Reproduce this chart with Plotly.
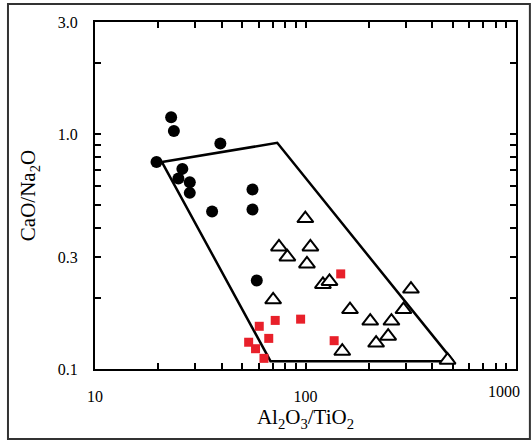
import plotly.graph_objects as go

# Data
circle_x = [23.0, 23.7, 39.4, 19.6, 26.0, 24.9, 28.2, 28.2, 36.0, 56.0, 56.0, 58.7]
circle_y = [1.18, 1.03, 0.912, 0.76, 0.711, 0.647, 0.624, 0.562, 0.468, 0.581, 0.477, 0.238]

tri_x = [99.8, 74.8, 105.5, 82.0, 101.6, 121, 130, 70.2, 317, 162.7, 292, 203, 256, 247, 216.5, 149.5, 473]
tri_y = [0.437, 0.331, 0.331, 0.300, 0.280, 0.229, 0.236, 0.197, 0.219, 0.179, 0.179, 0.160, 0.160, 0.138, 0.129, 0.119, 0.109]

sq_x = [147, 60.3, 71.8, 94.8, 53.7, 66.9, 57.9, 63.5, 136.8]
sq_y = [0.254, 0.152, 0.161, 0.163, 0.130, 0.135, 0.122, 0.111, 0.132]

field_x = [20.8, 73.4, 503.6, 68.2, 20.8]
field_y = [0.76, 0.918, 0.108, 0.108, 0.76]

x_ticks = [10, 100, 1000]
x_labels = ["10", "100", "1000"]
x_minor = [20, 30, 40, 50, 60, 70, 80, 90, 200, 300, 400, 500, 600, 700, 800, 900]
y_ticks = [0.1, 0.3, 1.0, 3.0]
y_labels = ["0.1", "0.3", "1.0", "3.0"]
y_minor = [0.2, 0.4, 0.5, 0.6, 0.7, 0.8, 0.9, 2.0]

FONT = "Liberation Serif"

fig = go.Figure()
fig.add_trace(go.Scatter(x=field_x, y=field_y, mode="lines",
                         line=dict(color="black", width=2.5), hoverinfo="skip"))
fig.add_trace(go.Scatter(x=circle_x, y=circle_y, mode="markers",
                         marker=dict(symbol="circle", size=12, color="black")))
fig.add_trace(go.Scatter(x=tri_x, y=tri_y, mode="markers",
                         marker=dict(symbol="triangle-up", size=14, color="white",
                                     line=dict(color="black", width=2))))
fig.add_trace(go.Scatter(x=sq_x, y=sq_y, mode="markers",
                         marker=dict(symbol="square", size=9, color="#e8202a")))

axis_common = dict(showgrid=False, zeroline=False, showline=True, linecolor="black",
                   linewidth=2, mirror="ticks", ticks="inside", ticklen=6,
                   tickwidth=2, tickcolor="black", ticklabeloverflow="allow",
                   automargin=False,
                   tickfont=dict(family=FONT, size=16, color="black"))

# all ticks (major + minor) on one array; the last major label is an annotation
xt_vals = x_ticks + x_minor
xt_text = x_labels[:-1] + [""] + [""] * len(x_minor)
yt_vals = y_ticks + y_minor
yt_text = y_labels + [""] * len(y_minor)

fig.update_xaxes(type="log", range=[1, 3], tickmode="array", tickvals=xt_vals,
                 ticktext=xt_text,
                 title=dict(text="Al<sub>2</sub>O<sub>3</sub>/TiO<sub>2</sub>",
                            font=dict(family=FONT, size=21, color="black"), standoff=4),
                 ticklabelstandoff=12, **axis_common)
fig.add_annotation(x=3, y=0, xref="x", yref="paper", text=x_labels[-1],
                   showarrow=False, xanchor="right", yanchor="top",
                   xshift=6, yshift=-12,
                   font=dict(family=FONT, size=16, color="black"))
fig.update_yaxes(type="log", range=[-1, 0.47712], tickmode="array", tickvals=yt_vals,
                 ticktext=yt_text,
                 title=dict(text="CaO/Na<sub>2</sub>O",
                            font=dict(family=FONT, size=21, color="black"), standoff=16),
                 ticklabelstandoff=12, **axis_common)

fig.add_shape(type="rect", xref="paper", yref="paper",
              x0=-0.2067, x1=1.033, y0=-0.2017, y1=1.0519,
              line=dict(color="#333333", width=2), fillcolor="rgba(0,0,0,0)")

fig.update_layout(width=531, height=445, showlegend=False,
                  margin=dict(l=95, r=15, t=22, b=76),
                  paper_bgcolor="white", plot_bgcolor="white")

fig.write_html("out.html")
